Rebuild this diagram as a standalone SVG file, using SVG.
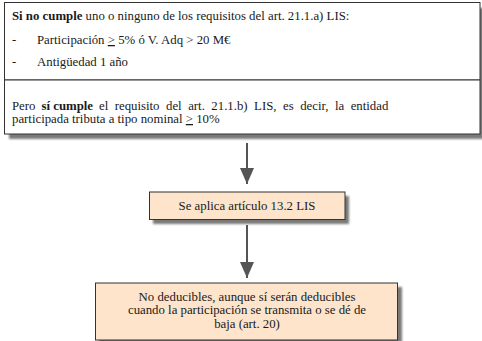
<svg xmlns="http://www.w3.org/2000/svg" width="482" height="341" viewBox="0 0 482 341">
<style>
.t{font-size:12.8px;fill:#1a1a1a}
.b{font-weight:bold}
.box{stroke:#333;stroke-width:1}
.w{fill:#fff}
.p{fill:#fde4cb}
.sh{fill:#7a7a7a;filter:url(#blur)}
.c{text-anchor:middle}
.ln{stroke:#555;stroke-width:2;fill:none}
</style>
<defs>
<filter id="blur" x="-10%" y="-50%" width="120%" height="200%"><feGaussianBlur stdDeviation="1"/></filter>
<marker id="ah" markerWidth="16" markerHeight="14" refX="16" refY="7" orient="auto" markerUnits="userSpaceOnUse" viewBox="0 0 16 14">
<path d="M0,0 L16,7 L0,14 Z" fill="#555"/>
</marker>
</defs>
<rect width="482" height="341" fill="#fff"/>
<g id="node-top">
<rect class="sh" x="9" y="8" width="477" height="131"/>
<rect class="box w" x="4.5" y="2.5" width="475.5" height="77.5"/>
<text class="t" font-family="Liberation Serif" x="12" y="20"><tspan class="b">Si no cumple</tspan> uno o ninguno de los requisitos del art. 21.1.a) LIS:</text>
<text class="t" font-family="Liberation Serif" x="12" y="44">-</text>
<text class="t" font-family="Liberation Serif" x="37" y="44">Participación <tspan text-decoration="underline">&gt;</tspan> 5% ó V. Adq &gt; 20 M€</text>
<text class="t" font-family="Liberation Serif" x="12" y="66">-</text>
<text class="t" font-family="Liberation Serif" x="37" y="66">Antigüedad 1 año</text>
</g>
<g id="node-top2">
<rect class="box w" x="4.5" y="80" width="475.5" height="54"/>
<text class="t" font-family="Liberation Serif" x="12" y="110">Pero</text>
<text class="t b" font-family="Liberation Serif" x="41.5" y="110">sí cumple</text>
<text class="t" font-family="Liberation Serif" x="99" y="110" word-spacing="3.3">el requisito del art. 21.1.b) LIS, es decir, la entidad</text>
<text class="t" font-family="Liberation Serif" x="12" y="123">participada tributa a tipo nominal <tspan text-decoration="underline">&gt;</tspan> 10%</text>
</g>
<g id="node-mid">
<rect class="sh" x="153" y="196" width="196" height="28"/>
<rect class="box p" x="149.5" y="192" width="195.5" height="27.5"/>
<text class="t c" font-family="Liberation Serif" x="247" y="210">Se aplica artículo 13.2 LIS</text>
</g>
<g id="node-bottom">
<rect class="sh" x="99" y="287" width="303" height="60"/>
<rect class="box p" x="95.5" y="283" width="302" height="57"/>
<text class="t c" font-family="Liberation Serif" x="247" y="301">No deducibles, aunque sí serán deducibles</text>
<text class="t c" font-family="Liberation Serif" x="247" y="314">cuando la participación se transmita o se dé de</text>
<text class="t c" font-family="Liberation Serif" x="247" y="328">baja (art. 20)</text>
</g>
<g id="connectors">
<line class="ln" x1="247" y1="143" x2="247" y2="184" marker-end="url(#ah)"/>
<line class="ln" x1="247" y1="225" x2="247" y2="278" marker-end="url(#ah)"/>
</g>
</svg>
